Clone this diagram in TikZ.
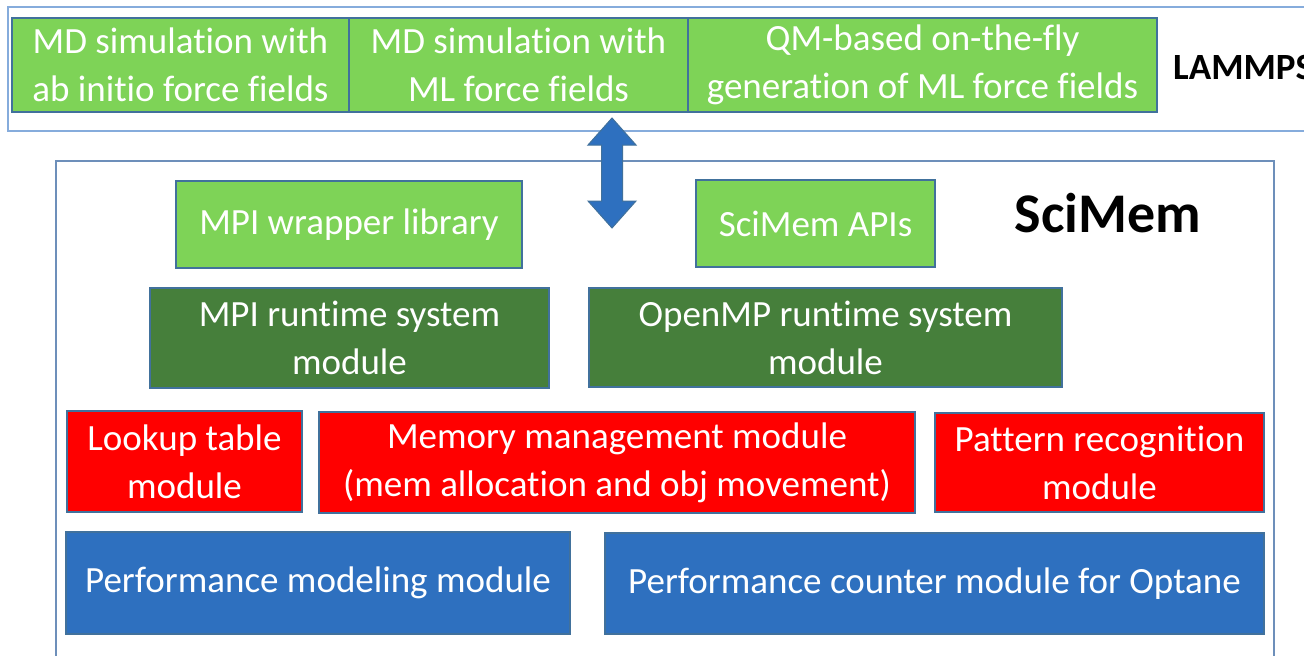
\documentclass[tikz,border=0pt]{standalone}
\usepackage{fontspec}
\setmainfont{Carlito}[Ligatures={NoCommon}]
\definecolor{lgreen}{HTML}{7ED357}
\definecolor{dgreen}{HTML}{467F3B}
\definecolor{mred}{HTML}{FF0000}
\definecolor{mblue}{HTML}{2E70BF}
\definecolor{edge}{HTML}{41719C}
\definecolor{toprule}{HTML}{86ACDC}
\definecolor{simrule}{HTML}{6D8FBA}
\tikzset{
  box/.style={draw=edge, line width=1.3pt, text=white, align=center, inner sep=0pt,
    font=\fontsize{37}{48}\selectfont},
  gbox/.style={box, fill=lgreen},
  dbox/.style={box, fill=dgreen},
  rbox/.style={box, fill=mred},
  bbox/.style={box, fill=mblue},
  frame/.style={line width=1.8pt},
}
\begin{document}
\begin{tikzpicture}[x=1pt,y=-1pt]
\useasboundingbox (0,0) rectangle (1304,656);
\clip (0,0) rectangle (1304,656);
\fill[white] (0,0) rectangle (1304,656);
% outer frames
\draw[frame, draw=toprule] (8,7) rectangle (1330,131);
\draw[frame, draw=simrule] (56,161) rectangle (1274,690);
% LAMMPS row
\node[gbox, minimum width=337pt, minimum height=94pt] (c1) at (180.5,65) {MD simulation with\\ab initio force fields};
\node[gbox, minimum width=339pt, minimum height=94pt] (c2) at (518.5,65) {MD simulation with\\ML force fields};
\node[gbox, minimum width=469pt, minimum height=94pt] (c3) at (922.5,65) {QM-based on-the-fly\\generation of ML force fields};
\node[anchor=west, inner sep=0pt, font=\fontsize{37}{40}\selectfont\bfseries] (lammps) at (1173,67) {LAMMPS};
% double arrow
\filldraw[fill=mblue, draw=edge, line width=1pt]
  (612,118) -- (636,145) -- (622.5,145) -- (622.5,201) -- (636,201) -- (612,228)
  -- (588,201) -- (601.5,201) -- (601.5,145) -- (588,145) -- cycle;
% SciMem
\node[inner sep=0pt, font=\fontsize{56}{60}\selectfont\bfseries] (scimem) at (1108,213) {SciMem};
\node[gbox, minimum width=346pt, minimum height=87pt] (mpiw) at (349,224.5) {MPI wrapper library};
\node[gbox, minimum width=239pt, minimum height=87pt] (apis) at (815.5,223.5) {SciMem APIs};
\node[dbox, minimum width=399pt, minimum height=100pt] (mpirt) at (349.5,338) {MPI runtime system\\module};
\node[dbox, minimum width=473pt, minimum height=99pt] (omprt) at (825.5,337.5) {OpenMP runtime system\\module};
\node[rbox, minimum width=235pt, minimum height=101pt] (lookup) at (184.5,461.5) {Lookup table\\module};
\node[rbox, minimum width=596pt, minimum height=101pt] (mem) at (617,462.5) {Memory management module\\(mem allocation and obj movement)};
\node[rbox, minimum width=329pt, minimum height=99pt] (pat) at (1099.5,462.5) {Pattern recognition\\module};
\node[bbox, minimum width=504pt, minimum height=102pt] (perfm) at (318,583) {Performance modeling module};
\node[bbox, minimum width=659pt, minimum height=101pt] (perfc) at (934.5,583.5) {Performance counter module for Optane};
\end{tikzpicture}
\end{document}
